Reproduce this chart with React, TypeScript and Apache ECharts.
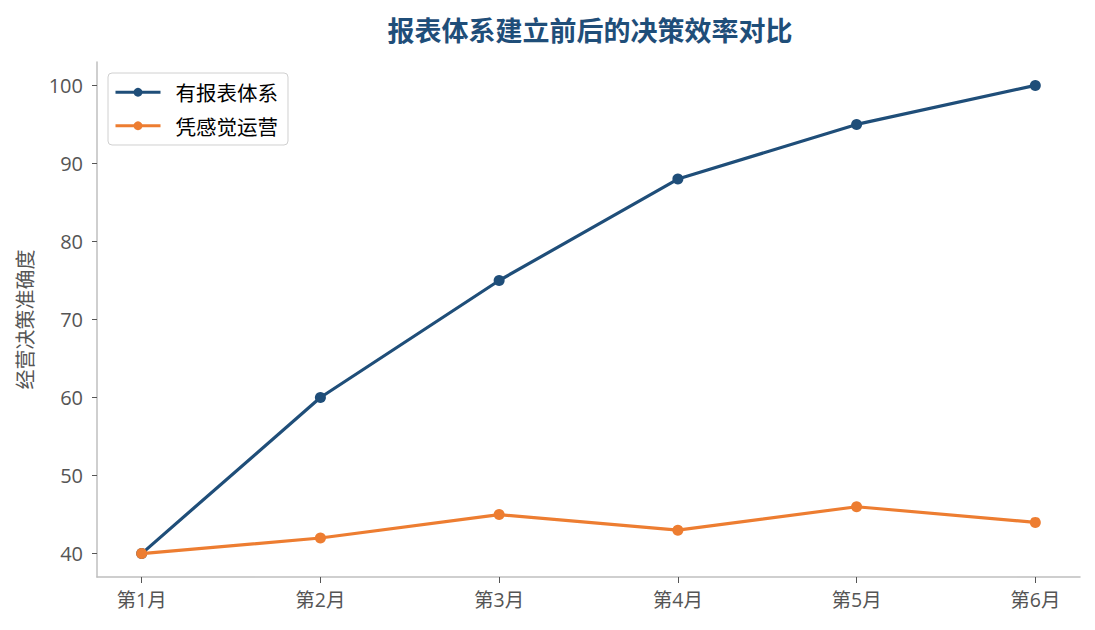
import React, { useEffect, useRef } from "react";
import * as echarts from "echarts";

// chart data
const months: string[] = ["第1月", "第2月", "第3月", "第4月", "第5月", "第6月"];
const withReports: number[] = [40, 60, 75, 88, 95, 100];
const byFeeling: number[] = [40, 42, 45, 43, 46, 44];
const yTicks: number[] = [40, 50, 60, 70, 80, 90, 100];

const BLUE = "#1f4e79";
const ORANGE = "#ed7d31";
const GREY = "#555555";
const FONT = "'Open Sans', 'Noto Sans CJK SC', sans-serif";
const CJK = "'Noto Sans CJK SC', sans-serif";

const App: React.FC = () => {
  const chartRef = useRef<HTMLDivElement | null>(null);

  useEffect(() => {
    if (!chartRef.current) return;
    const chart = echarts.init(chartRef.current, undefined, { renderer: "svg" });

    const xIdx = months.map((_, i) => i);

    const option: echarts.EChartsOption = {
      animation: false,
      backgroundColor: "#ffffff",
      title: {
        text: "报表体系建立前后的决策效率对比",
        left: 585,
        textAlign: "center",
        top: 11,
        textStyle: {
          fontFamily: CJK,
          fontWeight: "bold",
          fontSize: 27,
          color: BLUE,
        },
      },
      legend: {
        orient: "vertical",
        left: 108,
        top: 73,
        padding: [9, 10, 9, 6],
        itemGap: 13,
        itemWidth: 45,
        itemHeight: 11,
        borderColor: "#d0d0d0",
        borderWidth: 1,
        borderRadius: 4,
        backgroundColor: "#ffffff",
        lineStyle: { width: 3 },
        textStyle: {
          fontFamily: CJK,
          fontSize: 20.5,
          color: "#000000",
          padding: [0, 0, 0, 10],
        },
        data: ["有报表体系", "凭感觉运营"],
      },
      grid: {
        left: 97,
        right: 15,
        top: 62,
        bottom: 53,
        containLabel: false,
      },
      xAxis: {
        type: "value",
        min: -0.25,
        max: 5.25,
        splitLine: { show: false },
        axisLine: { show: true, onZero: false, lineStyle: { color: "#bfbfbf", width: 1.5 } },
        axisTick: {
          show: true,
          length: 6,
          lineStyle: { color: GREY },
          customValues: xIdx,
        },
        axisLabel: {
          customValues: xIdx,
          formatter: (v: number) => months[Math.round(v)] ?? "",
          color: GREY,
          fontSize: 19.5,
          fontFamily: FONT,
          margin: 13,
        },
      },
      yAxis: {
        type: "value",
        min: 37,
        max: 103,
        name: "经营决策准确度",
        nameLocation: "middle",
        nameGap: 63,
        nameRotate: 90,
        nameTextStyle: {
          color: GREY,
          fontSize: 20,
          fontFamily: CJK,
        },
        splitLine: { show: false },
        axisLine: { show: true, onZero: false, lineStyle: { color: "#bfbfbf", width: 1.5 } },
        axisTick: {
          show: true,
          length: 5,
          lineStyle: { color: GREY },
          customValues: yTicks,
        },
        axisLabel: {
          customValues: yTicks,
          color: GREY,
          fontSize: 20,
          fontFamily: FONT,
          margin: 14,
        },
      },
      series: [
        {
          name: "有报表体系",
          type: "line",
          data: withReports.map((v, i) => [i, v]),
          color: BLUE,
          symbol: "circle",
          symbolSize: 11,
          lineStyle: { width: 3.2, color: BLUE },
          itemStyle: { color: BLUE },
          z: 2,
        },
        {
          name: "凭感觉运营",
          type: "line",
          data: byFeeling.map((v, i) => [i, v]),
          color: ORANGE,
          symbol: "circle",
          symbolSize: 11,
          lineStyle: { width: 3.2, color: ORANGE },
          itemStyle: { color: ORANGE },
          z: 3,
        },
      ],
    };

    chart.setOption(option);
    return () => {
      chart.dispose();
    };
  }, []);

  return (
    <div
      ref={chartRef}
      style={{ width: "1095px", height: "630px", margin: "-8px" }}
    />
  );
};

export default App;
